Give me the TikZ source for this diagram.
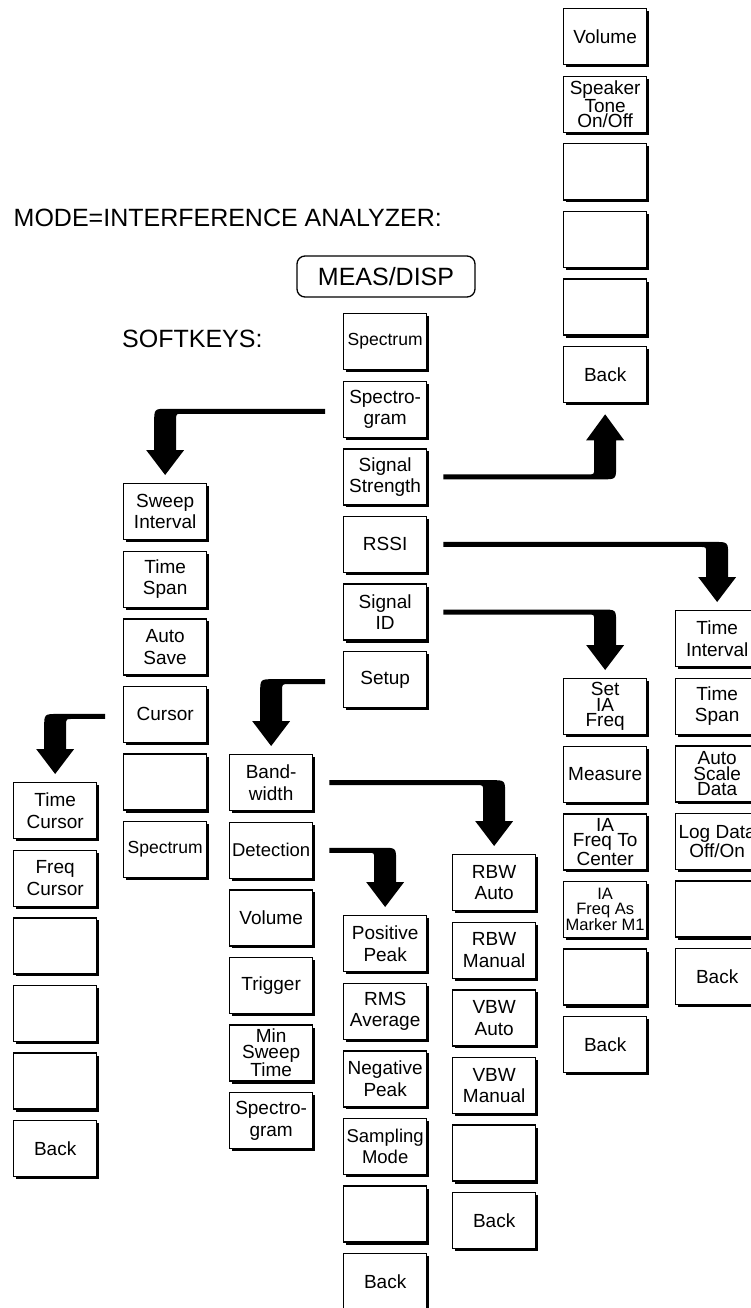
\documentclass[tikz,border=0pt]{standalone}
\usepackage{fontspec}
\setmainfont{Liberation Sans}
\usetikzlibrary{calc,shadows}
\tikzset{
  key/.style={draw, line width=1.3pt, fill=white, minimum width=83pt, minimum height=56pt,
    inner sep=0pt, anchor=north west, align=center, font=\fontsize{19}{21.5}\selectfont,
    drop shadow={shadow xshift=2.6pt, shadow yshift=-2.6pt, opacity=1, fill=black}},
  tight/.style={font=\fontsize{19}{15.5}\selectfont},
  small/.style={font=\fontsize{17.5}{21.5}\selectfont},
  mid/.style={font=\fontsize{18.5}{21.5}\selectfont},
  hdr/.style={inner sep=0pt, font=\fontsize{25}{28}\selectfont},
}
\newcommand\arrLD[2]{%
\fill let \p1=(#1.west), \p2=(#2.north) in
 (\x1-18pt,\y1+0.5pt) -- (\x2+3pt,\y1+0.5pt)
 .. controls (\x2-11pt,\y1+0.5pt) .. (\x2-11pt,\y1-13.5pt)
 -- (\x2-11pt,\y2+33pt) -- (\x2-19pt,\y2+33pt) -- (\x2,\y2+8pt) -- (\x2+19pt,\y2+33pt) -- (\x2+11pt,\y2+33pt)
 -- (\x2+11pt,\y1-10.5pt) .. controls (\x2+11pt,\y1-4.5pt) .. (\x2+17pt,\y1-4.5pt)
 -- (\x1-18pt,\y1-4.5pt) -- cycle;}
\newcommand\arrRD[2]{%
\fill let \p1=(#1.east), \p2=(#2.north) in
 (\x1+16pt,\y1+2.5pt) -- (\x2-3pt,\y1+2.5pt)
 .. controls (\x2+11pt,\y1+2.5pt) .. (\x2+11pt,\y1-11.5pt)
 -- (\x2+11pt,\y2+33pt) -- (\x2+19pt,\y2+33pt) -- (\x2,\y2+8pt) -- (\x2-19pt,\y2+33pt) -- (\x2-11pt,\y2+33pt)
 -- (\x2-11pt,\y1-8.5pt) .. controls (\x2-11pt,\y1-2.5pt) .. (\x2-17pt,\y1-2.5pt)
 -- (\x1+16pt,\y1-2.5pt) -- cycle;}
\newcommand\arrRU[2]{%
\fill let \p1=(#1.east), \p2=(#2.south) in
 (\x1+16pt,\y1-2.5pt) -- (\x2-3pt,\y1-2.5pt)
 .. controls (\x2+11pt,\y1-2.5pt) .. (\x2+11pt,\y1+11.5pt)
 -- (\x2+11pt,\y2-37pt) -- (\x2+19pt,\y2-37pt) -- (\x2,\y2-11pt) -- (\x2-19pt,\y2-37pt) -- (\x2-11pt,\y2-37pt)
 -- (\x2-11pt,\y1+8.5pt) .. controls (\x2-11pt,\y1+2.5pt) .. (\x2-17pt,\y1+2.5pt)
 -- (\x1+16pt,\y1+2.5pt) -- cycle;}
\begin{document}
\begin{tikzpicture}[x=1pt,y=-1pt]
\useasboundingbox (0,0) rectangle (751,1308);
\fill[white] (0,0) rectangle (751,1308);

% headings
\node[hdr, anchor=base east] (mode) at (442,226) {MODE=INTERFERENCE ANALYZER:};
\node[hdr, anchor=base west] (soft) at (122,347) {SOFTKEYS:};
\node[draw, line width=1.3pt, rounded corners=8pt, minimum width=178pt, minimum height=41pt,
      inner sep=0pt, font=\fontsize{25}{28}\selectfont] (meas) at (386,276.5) {MEAS/DISP};

% top-right column
\node[key] (t1) at (563,8) {Volume};
\node[key,tight] (t2) at (563,75.6) {Speaker\\Tone\\On/Off};
\node[key] (t3) at (563,143.2) {};
\node[key] (t4) at (563,210.8) {};
\node[key] (t5) at (563,278.4) {};
\node[key] (t6) at (563,346) {Back};

% main column
\node[key,small] (m1) at (343,313) {Spectrum};
\node[key] (m2) at (343,380.6) {Spectro-\\gram};
\node[key] (m3) at (343,448.2) {Signal\\Strength};
\node[key] (m4) at (343,515.8) {RSSI};
\node[key] (m5) at (343,583.4) {Signal\\ID};
\node[key] (m6) at (343,651) {Setup};

% sweep column
\node[key] (s1) at (123,483) {Sweep\\Interval};
\node[key] (s2) at (123,550.6) {Time\\Span};
\node[key] (s3) at (123,618.2) {Auto\\Save};
\node[key] (s4) at (123,685.8) {Cursor};
\node[key] (s5) at (123,753.4) {};
\node[key,small] (s6) at (123,821) {Spectrum};

% cursor column
\node[key] (c1) at (13,782) {Time\\Cursor};
\node[key] (c2) at (13,849.6) {Freq\\Cursor};
\node[key] (c3) at (13,917.2) {};
\node[key] (c4) at (13,984.8) {};
\node[key] (c5) at (13,1052.4) {};
\node[key] (c6) at (13,1120) {Back};

% setup column
\node[key] (b1) at (229,754) {Band-\\width};
\node[key,mid] (b2) at (229,821.6) {Detection};
\node[key] (b3) at (229,889.2) {Volume};
\node[key] (b4) at (229,956.8) {Trigger};
\node[key,tight] (b5) at (229,1024.4) {Min\\Sweep\\Time};
\node[key] (b6) at (229,1092) {Spectro-\\gram};

% detection column
\node[key] (d1) at (343,915) {Positive\\Peak};
\node[key] (d2) at (343,982.6) {RMS\\Average};
\node[key] (d3) at (343,1050.2) {Negative\\Peak};
\node[key,mid] (d4) at (343,1117.8) {Sampling\\Mode};
\node[key] (d5) at (343,1185.4) {};
\node[key] (d6) at (343,1253) {Back};

% bandwidth column
\node[key] (r1) at (452,854) {RBW\\Auto};
\node[key] (r2) at (452,921.6) {RBW\\Manual};
\node[key] (r3) at (452,989.2) {VBW\\Auto};
\node[key] (r4) at (452,1056.8) {VBW\\Manual};
\node[key] (r5) at (452,1124.4) {};
\node[key] (r6) at (452,1192) {Back};

% signal ID column
\node[key,tight] (i1) at (563,678) {Set\\IA\\Freq};
\node[key] (i2) at (563,745.6) {Measure};
\node[key,tight] (i3) at (563,813.2) {IA\\Freq To\\Center};
\node[key,font=\fontsize{16.5}{14.5}\selectfont] (i4) at (563,880.8) {IA\\Freq As\\Marker M1};
\node[key] (i5) at (563,948.4) {};
\node[key] (i6) at (563,1016) {Back};

% RSSI column
\node[key] (x1) at (675,610) {Time\\Interval};
\node[key] (x2) at (675,677.6) {Time\\Span};
\node[key,tight] (x3) at (675,745.2) {Auto\\Scale\\Data};
\node[key,font=\fontsize{19}{13.5}\selectfont] (x4) at (675,812.8) {Log Data\\Off/On};
\node[key] (x5) at (675,880.4) {};
\node[key] (x6) at (675,948) {Back};

% connectors
\arrLD{m2}{s1}
\arrLD{m6}{b1}
\arrLD{s4}{c1}
\arrRU{m3}{t6}
\arrRD{m4}{x1}
\arrRD{m5}{i1}
\arrRD{b1}{r1}
\arrRD{b2}{d1}
\end{tikzpicture}
\end{document}
